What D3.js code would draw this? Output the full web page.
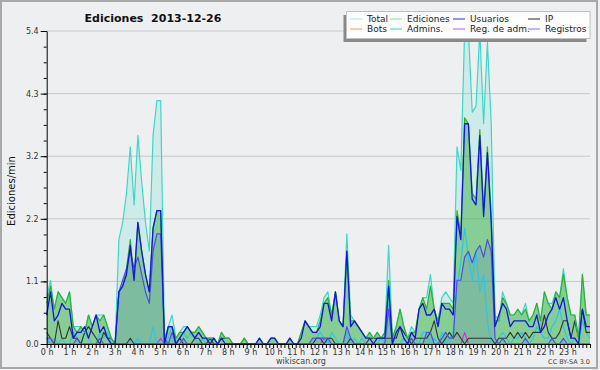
<!DOCTYPE html>
<html>
<head>
<meta charset="utf-8">
<script src="https://cdn.jsdelivr.net/npm/d3@7"></script>
<style>
  body { margin: 0; background: #eeeff1; }
  svg { display: block; font-family: "DejaVu Sans", sans-serif; }
</style>
</head>
<body>
<svg width="600" height="370"></svg>
<script>
// edits per minute, 10 minute steps (144 per day)
const total = [
  0.8, 1.1, 0.6, 0.9, 0.8, 0.7,
  0.9, 0.3, 0.3, 0.3, 0.2, 0.5,
  0.3, 0.5, 0.5, 0.5, 0.3, 0.1,
  0.0, 1.8, 2.1, 2.6, 3.4, 2.4,
  3.6, 2.8, 2.1, 1.6, 3.6, 4.2,
  4.2, 0.1, 0.3, 0.5, 0.1, 0.2,
  0.3, 0.3, 0.2, 0.2, 0.3, 0.2,
  0.1, 0.1, 0.1, 0.0, 0.2, 0.1,
  0.1, 0.0, 0.0, 0.0, 0.1, 0.0,
  0.0, 0.0, 0.1, 0.0, 0.0, 0.1,
  0.1, 0.0, 0.0, 0.0, 0.1, 0.0,
  0.0, 0.2, 0.4, 0.3, 0.3, 0.3,
  0.5, 0.8, 0.9, 0.5, 0.9, 0.4,
  0.3, 1.9, 0.5, 0.4, 0.3, 0.2,
  0.1, 0.2, 0.1, 0.2, 0.1, 0.2,
  1.7, 0.1, 0.3, 0.6, 0.3, 0.1,
  0.3, 0.2, 0.6, 0.8, 0.8, 1.2,
  0.6, 0.4, 0.8, 0.9, 0.8, 0.7,
  3.4, 3.0, 5.4, 5.4, 4.0, 4.1,
  5.4, 3.8, 5.2, 3.8, 0.5, 0.4,
  0.9, 0.7, 0.5, 0.5, 0.6, 0.5,
  0.7, 0.4, 0.5, 0.7, 0.4, 0.9,
  0.7, 0.7, 0.9, 0.8, 1.3, 0.8,
  0.5, 0.5, 0.1, 1.2, 0.5, 0.5
];
const ediciones = [
  0.7, 1.0, 0.6, 0.9, 0.8, 0.7,
  0.9, 0.3, 0.2, 0.3, 0.2, 0.5,
  0.3, 0.5, 0.4, 0.5, 0.3, 0.1,
  0.0, 0.9, 1.0, 1.3, 1.8, 1.1,
  2.1, 1.6, 1.2, 0.9, 2.0, 2.3,
  2.3, 0.0, 0.3, 0.3, 0.1, 0.2,
  0.2, 0.3, 0.2, 0.2, 0.3, 0.2,
  0.1, 0.1, 0.1, 0.0, 0.2, 0.1,
  0.1, 0.0, 0.0, 0.0, 0.1, 0.0,
  0.0, 0.0, 0.1, 0.0, 0.0, 0.1,
  0.1, 0.0, 0.0, 0.0, 0.1, 0.0,
  0.0, 0.2, 0.4, 0.3, 0.2, 0.2,
  0.4, 0.7, 0.8, 0.5, 0.9, 0.4,
  0.3, 1.6, 0.4, 0.4, 0.3, 0.2,
  0.1, 0.2, 0.1, 0.2, 0.1, 0.2,
  1.1, 0.1, 0.3, 0.6, 0.3, 0.1,
  0.2, 0.2, 0.6, 0.8, 0.6, 1.0,
  0.6, 0.4, 0.7, 0.7, 0.7, 0.6,
  2.3, 1.9, 3.9, 3.8, 2.6, 2.5,
  3.7, 2.3, 3.4, 2.2, 0.4, 0.4,
  0.8, 0.7, 0.5, 0.5, 0.6, 0.5,
  0.6, 0.4, 0.5, 0.7, 0.4, 0.9,
  0.7, 0.6, 0.9, 0.8, 1.2, 0.8,
  0.5, 0.5, 0.1, 1.2, 0.5, 0.5
];
const usuarios = [
  0.5, 0.9, 0.4, 0.5, 0.7, 0.6,
  0.6, 0.1, 0.2, 0.2, 0.3, 0.1,
  0.3, 0.5, 0.2, 0.3, 0.1, 0.0,
  0.0, 0.9, 1.0, 1.2, 1.7, 1.1,
  2.1, 1.6, 1.2, 0.9, 2.0, 2.3,
  2.3, 0.0, 0.3, 0.3, 0.0, 0.1,
  0.2, 0.3, 0.2, 0.1, 0.2, 0.1,
  0.1, 0.0, 0.1, 0.0, 0.1, 0.0,
  0.0, 0.0, 0.0, 0.0, 0.0, 0.0,
  0.0, 0.0, 0.1, 0.0, 0.0, 0.1,
  0.1, 0.0, 0.0, 0.0, 0.1, 0.0,
  0.0, 0.1, 0.4, 0.3, 0.2, 0.2,
  0.3, 0.7, 0.7, 0.4, 0.9, 0.4,
  0.3, 1.6, 0.3, 0.4, 0.3, 0.2,
  0.1, 0.1, 0.0, 0.1, 0.1, 0.1,
  1.0, 0.0, 0.2, 0.3, 0.1, 0.0,
  0.2, 0.1, 0.6, 0.7, 0.5, 0.5,
  0.6, 0.3, 0.7, 0.6, 0.6, 0.5,
  2.2, 1.8, 3.8, 3.8, 2.5, 2.4,
  3.6, 2.2, 3.3, 2.1, 0.3, 0.5,
  0.7, 0.6, 0.3, 0.4, 0.4, 0.4,
  0.4, 0.3, 0.3, 0.5, 0.2, 0.3,
  0.5, 0.6, 0.8, 0.6, 0.8, 0.4,
  0.1, 0.1, 0.0, 0.6, 0.3, 0.3
];
const ip = [
  0.2, 0.1, 0.0, 0.4, 0.1, 0.1,
  0.3, 0.1, 0.1, 0.0, 0.2, 0.3,
  0.2, 0.1, 0.0, 0.2, 0.1, 0.1,
  0.0, 0.0, 0.0, 0.0, 0.1, 0.0,
  0.0, 0.0, 0.0, 0.0, 0.0, 0.0,
  0.0, 0.0, 0.0, 0.0, 0.0, 0.1,
  0.0, 0.0, 0.0, 0.1, 0.1, 0.0,
  0.0, 0.1, 0.0, 0.0, 0.1, 0.1,
  0.1, 0.0, 0.0, 0.0, 0.1, 0.0,
  0.0, 0.0, 0.0, 0.0, 0.0, 0.0,
  0.0, 0.0, 0.0, 0.0, 0.0, 0.0,
  0.0, 0.0, 0.0, 0.0, 0.0, 0.1,
  0.1, 0.0, 0.1, 0.1, 0.0, 0.0,
  0.0, 0.0, 0.1, 0.0, 0.0, 0.0,
  0.0, 0.1, 0.1, 0.1, 0.1, 0.1,
  0.1, 0.1, 0.1, 0.3, 0.2, 0.1,
  0.0, 0.1, 0.1, 0.1, 0.1, 0.2,
  0.4, 0.1, 0.0, 0.1, 0.2, 0.1,
  0.2, 0.1, 0.0, 0.1, 0.1, 0.1,
  0.1, 0.1, 0.1, 0.1, 0.0, 0.1,
  0.1, 0.1, 0.2, 0.1, 0.2, 0.1,
  0.2, 0.1, 0.2, 0.2, 0.2, 0.5,
  0.2, 0.1, 0.1, 0.2, 0.4, 0.4,
  0.1, 0.4, 0.1, 0.6, 0.2, 0.2
];
const bots = d3.range(144).map(() => 0);
const admins = [
  0.1, 0.0, 0.1, 0.0, 0.1, 0.0,
  0.0, 0.2, 0.1, 0.0, 0.2, 0.1,
  0.0, 0.0, 0.2, 0.1, 0.2, 0.0,
  0.0, 0.0, 0.0, 0.0, 0.1, 0.0,
  0.1, 0.0, 0.0, 0.0, 0.3, 0.0,
  0.0, 0.0, 0.1, 0.3, 0.0, 0.1,
  0.2, 0.1, 0.2, 0.1, 0.0, 0.1,
  0.0, 0.0, 0.0, 0.0, 0.0, 0.0,
  0.0, 0.0, 0.0, 0.0, 0.0, 0.0,
  0.0, 0.0, 0.0, 0.0, 0.0, 0.0,
  0.0, 0.0, 0.0, 0.0, 0.0, 0.0,
  0.0, 0.0, 0.0, 0.0, 0.0, 0.1,
  0.2, 0.1, 0.0, 0.2, 0.1, 0.0,
  0.0, 0.2, 0.0, 0.1, 0.0, 0.1,
  0.0, 0.0, 0.0, 0.0, 0.1, 0.0,
  0.8, 0.0, 0.0, 0.0, 0.1, 0.0,
  0.0, 0.1, 0.0, 0.2, 0.2, 0.0,
  0.1, 0.0, 0.2, 0.0, 0.1, 0.2,
  1.0, 1.4, 2.0, 1.5, 1.1, 1.6,
  0.9, 1.2, 0.4, 0.0, 0.0, 0.1,
  0.2, 0.1, 0.0, 0.1, 0.1, 0.2,
  0.1, 0.0, 0.1, 0.3, 0.2, 0.1,
  0.1, 0.3, 0.4, 0.6, 0.3, 0.1,
  0.0, 0.1, 0.0, 0.4, 0.2, 0.1
];
const regAdm = [
  0.1, 0, 0, 0, 0, 0,   0, 0, 0, 0, 0, 0,   0, 0, 0, 0, 0, 0,   0, 0, 0, 0, 0, 0,
  0, 0, 0, 0, 0, 0,     0.1, 0, 0, 0, 0, 0, 0, 0, 0, 0, 0, 0,   0, 0, 0, 0, 0, 0,
  0, 0, 0, 0, 0, 0,     0, 0, 0, 0, 0, 0,   0, 0, 0, 0, 0, 0,   0, 0, 0, 0, 0, 0,
  0, 0.1, 0, 0, 0, 0,   0, 0, 0, 0, 0, 0,   0, 0, 0, 0, 0, 0,   0, 0, 0, 0, 0, 0,
  0, 0, 0, 0, 0, 0,     0, 0, 0, 0, 0, 0,   0, 0, 0.2, 0, 0, 0, 0, 0, 0, 0, 0, 0,
  0, 0, 0, 0, 0, 0,     0, 0, 0, 0, 0, 0,   0, 0, 0, 0, 0, 0,   0, 0, 0, 0, 0, 0
];
const registros = [
  0.1, 0.1, 0.0, 0.0, 0.0, 0.0,
  0.0, 0.0, 0.1, 0.0, 0.0, 0.0,
  0.0, 0.0, 0.1, 0.0, 0.0, 0.0,
  0.0, 0.9, 1.1, 1.3, 1.6, 1.3,
  1.5, 1.2, 0.9, 0.7, 1.6, 1.9,
  1.9, 0.1, 0.0, 0.2, 0.0, 0.0,
  0.1, 0.0, 0.0, 0.0, 0.0, 0.0,
  0.0, 0.0, 0.0, 0.0, 0.0, 0.0,
  0.0, 0.0, 0.0, 0.0, 0.0, 0.0,
  0.0, 0.0, 0.0, 0.0, 0.0, 0.0,
  0.0, 0.0, 0.0, 0.0, 0.0, 0.0,
  0.0, 0.0, 0.0, 0.0, 0.1, 0.1,
  0.1, 0.1, 0.1, 0.0, 0.0, 0.0,
  0.0, 0.3, 0.1, 0.0, 0.0, 0.0,
  0.0, 0.0, 0.0, 0.0, 0.0, 0.0,
  0.6, 0.0, 0.0, 0.0, 0.0, 0.0,
  0.1, 0.0, 0.0, 0.0, 0.2, 0.2,
  0.0, 0.0, 0.1, 0.2, 0.1, 0.1,
  1.1, 1.1, 1.5, 1.6, 1.4, 1.6,
  1.7, 1.5, 1.8, 1.6, 0.1, 0.0,
  0.1, 0.0, 0.0, 0.0, 0.0, 0.0,
  0.1, 0.0, 0.0, 0.0, 0.0, 0.0,
  0.0, 0.1, 0.0, 0.0, 0.1, 0.0,
  0.0, 0.0, 0.0, 0.0, 0.0, 0.0
];

const yMajor = [0, 1.08, 2.16, 3.24, 4.32, 5.4];
const hours = d3.range(0, 24);

const legendNames = ["Total", "Ediciones", "Usuarios", "IP", "Bots", "Admins.", "Reg. de adm.", "Registros"];
const legendColors = ["#a8e8e0", "#8ed48e", "#2a2ae0", "#222222", "#f5a040", "#40c8e0", "#d050e0", "#7878f0"];

const svg = d3.select("svg");
const plotL = 46.7, plotR = 590, plotT = 31, plotB = 344;

svg.append("rect").attr("width", 600).attr("height", 370).attr("fill", "#eeeff1");
svg.append("rect").attr("x", 1).attr("y", 1).attr("width", 596).attr("height", 367)
  .attr("fill", "none").attr("stroke", "#a8a8a8").attr("stroke-width", 2);

const x = d3.scaleLinear().domain([0, total.length - 1]).range([plotL, plotR]);
const xh = d3.scaleLinear().domain([0, 24]).range([plotL, plotR]);
const y = d3.scaleLinear().domain([0, 5.4]).range([plotB, plotT]);

// grid
svg.append("g").selectAll("line")
  .data(yMajor.slice(1))
  .enter().append("line")
  .attr("x1", plotL).attr("x2", plotR)
  .attr("y1", d => y(d)).attr("y2", d => y(d))
  .attr("stroke", "#c8c8c8").attr("stroke-width", 1);

const area = d3.area().x((d, i) => x(i)).y0(y(0)).y1(d => y(d));
const line = d3.line().x((d, i) => x(i)).y(d => y(d));

svg.append("path").datum(total).attr("d", area).attr("fill", "rgba(64,216,200,0.18)");
svg.append("path").datum(ediciones).attr("d", area).attr("fill", "rgba(46,170,46,0.45)");
svg.append("path").datum(registros).attr("d", area).attr("fill", "rgba(60,70,210,0.13)");

const series = [
  { v: bots, c: "#f5a040", w: 1 },
  { v: regAdm, c: "#cc33dd", w: 1.1 },
  { v: admins, c: "#30c4e4", w: 1.2 },
  { v: ip, c: "#333333", w: 1.1 },
  { v: total, c: "#3cd8c6", w: 1.2 },
  { v: ediciones, c: "#2eb22e", w: 1.2 },
  { v: registros, c: "#4c4cec", w: 1.2 },
  { v: usuarios, c: "#1414e0", w: 1.3 }
];
series.forEach(s => {
  svg.append("path").datum(s.v).attr("d", line)
    .attr("fill", "none").attr("stroke", s.c).attr("stroke-width", s.w)
    .attr("stroke-linejoin", "round");
});

// y axis
const yMinor = svg.append("g").attr("transform", `translate(${plotL},0)`)
  .call(d3.axisLeft(y).tickValues(d3.range(0, 21).map(k => k * 0.27)).tickSize(3).tickFormat(""));
yMinor.select(".domain").remove();
yMinor.selectAll("line").attr("stroke", "#000");
const yAx = svg.append("g").attr("transform", `translate(${plotL},0)`)
  .call(d3.axisLeft(y).tickValues(yMajor).tickSize(6).tickSizeOuter(0).tickFormat(d3.format(".1f")));
yAx.selectAll("text").attr("font-size", 8).attr("fill", "#333").attr("font-family", "DejaVu Sans").attr("dx", "1");
yAx.selectAll("line, path").attr("stroke", "#000");

// x axis
const xMinor = svg.append("g").attr("transform", `translate(0,${plotB})`)
  .call(d3.axisBottom(xh).tickValues(d3.range(0, 145).map(k => k / 6)).tickSize(4).tickSizeOuter(0).tickFormat(""));
xMinor.selectAll("line, path").attr("stroke", "#000");
const xAx = svg.append("g").attr("transform", `translate(0,${plotB})`)
  .call(d3.axisBottom(xh).tickValues(hours).tickSize(0).tickPadding(5).tickFormat(d => d + " h"));
xAx.select(".domain").remove();
xAx.selectAll("text").attr("font-size", 8).attr("fill", "#333").attr("font-family", "DejaVu Sans");

// texts
svg.append("text").attr("x", 153).attr("y", 22).attr("text-anchor", "middle")
  .attr("font-size", 11).attr("font-weight", "bold").attr("fill", "#111")
  .style("white-space", "pre").text("Ediciones  2013-12-26");
svg.append("text").attr("transform", "translate(15,191) rotate(-90)").attr("text-anchor", "middle")
  .attr("font-size", 10).attr("fill", "#111").text("Ediciones/min");
svg.append("text").attr("x", 301).attr("y", 364).attr("text-anchor", "middle")
  .attr("font-size", 8).attr("fill", "#444").text("wikiscan.org");
svg.append("text").attr("x", 590).attr("y", 364).attr("text-anchor", "end")
  .attr("font-size", 6.5).attr("fill", "#444").text("CC BY-SA 3.0");

// legend
const lg = svg.append("g");
lg.append("rect").attr("x", 343.5).attr("y", 15).attr("width", 243).attr("height", 27).attr("fill", "#8a8a8a");
lg.append("rect").attr("x", 346.5).attr("y", 11.5).attr("width", 243.5).attr("height", 27)
  .attr("fill", "#fff").attr("stroke", "#c0c0c0");
const colX = [350, 390, 453, 528];
const rowY = [19, 29];
legendNames.forEach((n, i) => {
  const cx = colX[i % 4], cy = rowY[Math.floor(i / 4)];
  lg.append("line").attr("x1", cx).attr("x2", cx + 12).attr("y1", cy).attr("y2", cy)
    .attr("stroke", legendColors[i]).attr("stroke-width", 1);
  lg.append("text").attr("x", cx + 17).attr("y", cy + 3.2).attr("font-size", 9).attr("fill", "#222").text(n);
});
</script>
</body>
</html>
